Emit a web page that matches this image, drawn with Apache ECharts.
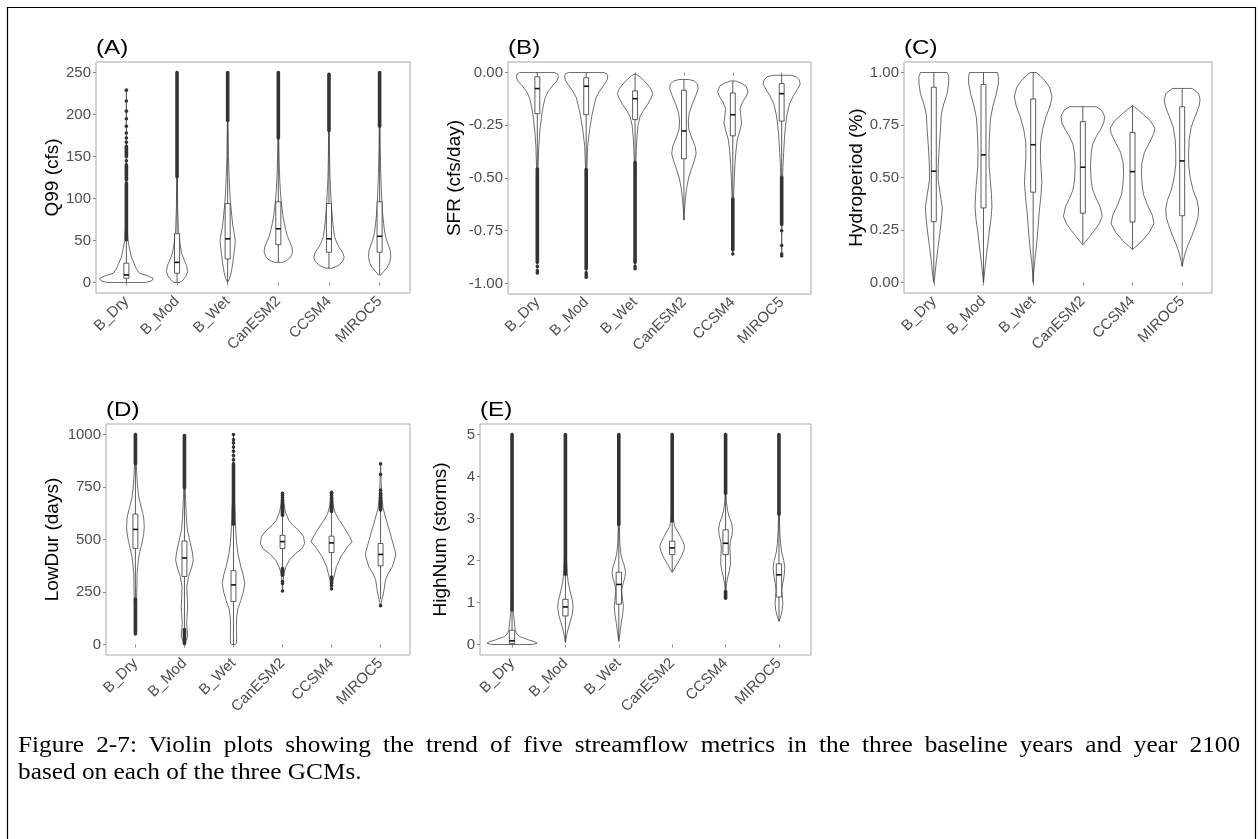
<!DOCTYPE html>
<html>
<head>
<meta charset="utf-8">
<script src="https://cdn.jsdelivr.net/npm/echarts@6/dist/echarts.min.js"></script>
<style>
  html, body { margin: 0; padding: 0; background: #fff; }
  #chart { position: absolute; left: 0; top: 0; width: 1258px; height: 839px; }
  #caption {
    position: absolute; left: 18px; top: 731px; width: 1111px; margin: 0;
    font-family: 'Liberation Serif', 'Times New Roman', serif; font-size: 23px;
    line-height: 27px; color: #000;
    transform: scaleX(1.1); transform-origin: 0 0;
  }
  #caption .full { display: block; text-align: justify; text-align-last: justify; }
  #caption .last { display: block; text-align: left; }
</style>
</head>
<body>
<div id="chart"></div>
<p id="caption"><span class="full">Figure 2-7: Violin plots showing the trend of five streamflow metrics in the three baseline years and year 2100</span><span class="last">based on each of the three GCMs.</span></p>
<script>
// ---------- categories shared by every panel ----------
const categories = ['B_Dry', 'B_Mod', 'B_Wet', 'CanESM2', 'CCSM4', 'MIROC5'];

// ---------- (A) Q99 ----------
const q99Ticks = [0, 50, 100, 150, 200, 250];
// [lower whisker, Q1, median, Q3, upper whisker]
const q99Box = [
  [0.5, 5, 9, 23, 51],
  [0.5, 11, 24, 58, 126],
  [1, 28, 52, 94, 193],
  [24, 45, 64, 96, 172],
  [17, 36, 52, 94, 181],
  [9, 36, 55, 96, 186]
];
// density outline: [value, half width in category units]
const q99Violin = [
  [[0,0.38],[2,0.5],[5,0.53],[8,0.42],[11,0.26],[16,0.2],[23,0.15],[30,0.1],[39,0.066],[51,0.03],[70,0.012],[120,0.005],[229,0]],
  [[0,0.06],[3,0.12],[8,0.18],[13,0.21],[20,0.19],[27,0.14],[35,0.09],[47,0.056],[62,0.028],[90,0.012],[150,0.004],[250,0]],
  [[0,0],[5,0.04],[12,0.07],[23,0.1],[33,0.12],[42,0.14],[50,0.15],[58,0.13],[68,0.1],[80,0.08],[95,0.055],[110,0.04],[126,0.028],[150,0.015],[190,0.006],[250,0]],
  [[24,0.08],[26,0.16],[30,0.24],[36,0.28],[42,0.27],[48,0.23],[55,0.18],[62,0.15],[70,0.12],[80,0.09],[92,0.065],[105,0.045],[120,0.03],[140,0.018],[170,0.008],[210,0.003],[250,0]],
  [[17,0.06],[20,0.18],[25,0.27],[30,0.3],[36,0.27],[42,0.2],[48,0.15],[55,0.11],[63,0.09],[75,0.07],[90,0.05],[105,0.035],[125,0.02],[150,0.012],[190,0.005],[248,0]],
  [[9,0.02],[13,0.08],[18,0.15],[24,0.2],[31,0.22],[38,0.21],[45,0.17],[52,0.13],[60,0.1],[70,0.08],[82,0.06],[95,0.045],[110,0.035],[130,0.022],[160,0.012],[200,0.005],[250,0]]
];
// stretches of outliers so dense they merge into a bar
const q99OutlierRuns = [
  [[51,118],[122,140],[150,162]],
  [[126,250]],
  [[193,250]],
  [[172,250]],
  [[181,248]],
  [[186,250]]
];
const q99OutlierPoints = [
  [145,167,172,178,186,195,204,216,229],
  [], [], [], [], []
];

// ---------- (B) SFR ----------
const sfrTicks = [-1, -0.75, -0.5, -0.25, 0];
const sfrBox = [
  [-0.457, -0.195, -0.076, -0.02, 0],
  [-0.46, -0.2, -0.065, -0.025, 0],
  [-0.427, -0.223, -0.124, -0.087, -0.005],
  [-0.7, -0.409, -0.277, -0.084, -0.033],
  [-0.6, -0.3, -0.2, -0.097, -0.04],
  [-0.497, -0.23, -0.1, -0.052, -0.013]
];
const sfrViolin = [
  [[-0.95,0],[-0.7,0.004],[-0.55,0.008],[-0.45,0.015],[-0.35,0.03],[-0.28,0.05],[-0.2,0.09],[-0.16,0.12],[-0.12,0.16],[-0.09,0.22],[-0.06,0.32],[-0.04,0.4],[-0.02,0.43],[-0.008,0.42],[0,0.36]],
  [[-0.97,0],[-0.7,0.004],[-0.55,0.008],[-0.45,0.015],[-0.35,0.03],[-0.27,0.07],[-0.2,0.12],[-0.12,0.2],[-0.09,0.27],[-0.06,0.36],[-0.035,0.43],[-0.015,0.44],[-0.005,0.42],[0,0.36]],
  [[-0.93,0],[-0.6,0.005],[-0.45,0.012],[-0.36,0.025],[-0.3,0.04],[-0.25,0.06],[-0.21,0.1],[-0.18,0.17],[-0.15,0.26],[-0.12,0.33],[-0.1,0.36],[-0.08,0.33],[-0.06,0.27],[-0.04,0.19],[-0.02,0.1],[-0.005,0]],
  [[-0.7,0],[-0.65,0.012],[-0.6,0.03],[-0.55,0.055],[-0.5,0.095],[-0.46,0.15],[-0.42,0.21],[-0.385,0.25],[-0.35,0.23],[-0.31,0.16],[-0.27,0.1],[-0.23,0.09],[-0.19,0.11],[-0.15,0.17],[-0.11,0.24],[-0.08,0.29],[-0.055,0.28],[-0.04,0.21],[-0.033,0.1]],
  [[-0.86,0],[-0.75,0.006],[-0.6,0.015],[-0.5,0.03],[-0.43,0.045],[-0.37,0.065],[-0.32,0.09],[-0.28,0.14],[-0.24,0.18],[-0.2,0.16],[-0.17,0.15],[-0.14,0.2],[-0.11,0.28],[-0.09,0.31],[-0.065,0.27],[-0.05,0.17],[-0.04,0.05]],
  [[-0.87,0],[-0.7,0.006],[-0.55,0.013],[-0.45,0.025],[-0.38,0.04],[-0.3,0.06],[-0.25,0.08],[-0.2,0.11],[-0.15,0.16],[-0.11,0.24],[-0.08,0.32],[-0.055,0.38],[-0.035,0.36],[-0.02,0.3],[-0.013,0.18]]
];
const sfrOutlierRuns = [
  [[-0.9,-0.457]],
  [[-0.93,-0.46]],
  [[-0.9,-0.427]],
  [],
  [[-0.84,-0.6]],
  [[-0.72,-0.497]]
];
const sfrOutlierPoints = [
  [-0.92,-0.94,-0.95],
  [-0.95,-0.96,-0.97],
  [-0.92,-0.93],
  [],
  [-0.86],
  [-0.75,-0.82,-0.86,-0.87]
];

// ---------- (C) Hydroperiod ----------
const hydTicks = [0, 0.25, 0.5, 0.75, 1];
const hydBox = [
  [0, 0.29, 0.53, 0.93, 1.0],
  [0, 0.355, 0.608, 0.943, 1.0],
  [0, 0.43, 0.656, 0.874, 1.0],
  [0.18, 0.33, 0.549, 0.766, 0.837],
  [0.157, 0.288, 0.528, 0.715, 0.842],
  [0.077, 0.318, 0.579, 0.837, 0.924]
];
const hydViolin = [
  [[0,0],[0.03,0.02],[0.1,0.05],[0.17,0.087],[0.25,0.13],[0.32,0.16],[0.36,0.17],[0.42,0.13],[0.49,0.087],[0.56,0.09],[0.65,0.11],[0.73,0.135],[0.8,0.15],[0.85,0.2],[0.9,0.27],[0.95,0.3],[0.98,0.3],[1.0,0.27]],
  [[0,0],[0.03,0.015],[0.08,0.035],[0.13,0.06],[0.19,0.09],[0.25,0.12],[0.3,0.15],[0.36,0.17],[0.42,0.16],[0.48,0.14],[0.55,0.115],[0.62,0.11],[0.7,0.12],[0.78,0.14],[0.84,0.19],[0.9,0.26],[0.95,0.3],[0.98,0.3],[1.0,0.28]],
  [[0,0],[0.05,0.012],[0.1,0.03],[0.17,0.065],[0.25,0.095],[0.33,0.12],[0.41,0.155],[0.48,0.175],[0.54,0.16],[0.6,0.145],[0.67,0.15],[0.73,0.19],[0.79,0.26],[0.84,0.34],[0.885,0.38],[0.93,0.33],[0.96,0.24],[0.985,0.14],[1.0,0.06]],
  [[0.18,0],[0.19,0.04],[0.22,0.14],[0.25,0.24],[0.28,0.33],[0.315,0.39],[0.36,0.35],[0.4,0.27],[0.44,0.2],[0.48,0.17],[0.52,0.16],[0.56,0.155],[0.62,0.17],[0.66,0.2],[0.7,0.28],[0.73,0.36],[0.76,0.42],[0.79,0.44],[0.82,0.38],[0.837,0.27]],
  [[0.157,0],[0.17,0.06],[0.2,0.2],[0.24,0.34],[0.28,0.43],[0.32,0.4],[0.37,0.3],[0.42,0.22],[0.47,0.19],[0.52,0.18],[0.57,0.19],[0.62,0.24],[0.67,0.35],[0.71,0.43],[0.735,0.45],[0.77,0.36],[0.8,0.22],[0.825,0.1],[0.842,0]],
  [[0.077,0],[0.1,0.02],[0.14,0.06],[0.18,0.12],[0.22,0.19],[0.27,0.27],[0.31,0.32],[0.35,0.33],[0.39,0.3],[0.44,0.22],[0.5,0.16],[0.56,0.13],[0.62,0.13],[0.68,0.14],[0.74,0.18],[0.79,0.26],[0.84,0.34],[0.87,0.36],[0.9,0.33],[0.924,0.2]]
];
const hydOutlierRuns = [[], [], [], [], [], []];
const hydOutlierPoints = [[], [], [], [], [], []];

// ---------- (D) LowDur ----------
const lowTicks = [0, 250, 500, 750, 1000];
const lowBox = [
  [216, 458, 548, 621, 862],
  [71, 324, 412, 493, 746],
  [0, 205, 284, 352, 573],
  [362, 457, 490, 520, 615],
  [321, 438, 484, 516, 633],
  [216, 375, 429, 481, 640]
];
const lowViolin = [
  [[50,0],[120,0.012],[200,0.022],[280,0.03],[340,0.035],[380,0.05],[420,0.07],[450,0.1],[490,0.14],[530,0.17],[560,0.18],[600,0.17],[625,0.15],[660,0.11],[700,0.07],[750,0.045],[800,0.03],[850,0.02],[900,0.01],[960,0.004],[1000,0]],
  [[5,0],[20,0.04],[40,0.065],[70,0.055],[103,0.045],[140,0.055],[182,0.065],[230,0.055],[276,0.05],[324,0.085],[370,0.15],[403,0.18],[440,0.16],[483,0.12],[520,0.085],[545,0.06],[600,0.04],[650,0.03],[720,0.018],[800,0.01],[900,0.005],[995,0]],
  [[0,0.03],[5,0.06],[30,0.065],[80,0.06],[130,0.065],[170,0.09],[210,0.15],[250,0.2],[290,0.23],[330,0.2],[370,0.15],[434,0.09],[480,0.065],[528,0.05],[600,0.035],[686,0.02],[800,0.01],[900,0.005],[1000,0]],
  [[255,0],[300,0.01],[340,0.03],[370,0.07],[402,0.14],[434,0.27],[457,0.4],[481,0.45],[513,0.43],[544,0.33],[570,0.2],[591,0.13],[630,0.06],[686,0.015],[720,0]],
  [[265,0],[300,0.015],[323,0.05],[370,0.1],[418,0.19],[466,0.33],[489,0.42],[513,0.37],[540,0.3],[560,0.25],[590,0.16],[623,0.08],[660,0.035],[700,0.012],[725,0]],
  [[185,0],[200,0.015],[225,0.04],[244,0.06],[275,0.08],[308,0.1],[340,0.16],[370,0.24],[400,0.28],[430,0.31],[460,0.28],[500,0.23],[528,0.2],[565,0.15],[607,0.1],[650,0.05],[700,0.025],[780,0.01],[860,0]]
];
const lowOutlierRuns = [
  [[862,1000],[57,216]],
  [[746,995],[5,71]],
  [[573,860]],
  [[615,690],[330,362]],
  [[633,700],[290,321]],
  [[640,700]]
];
const lowOutlierPoints = [
  [50],
  [],
  [880,900,920,940,960,975,1000],
  [700,710,720,300,290,255],
  [710,720,725,280,265],
  [710,720,735,810,860,185]
];

// ---------- (E) HighNum ----------
const hnTicks = [0, 1, 2, 3, 4, 5];
const hnBox = [
  [0, 0.02, 0.087, 0.34, 0.82],
  [0.05, 0.68, 0.894, 1.076, 1.67],
  [0.08, 0.96, 1.43, 1.72, 2.86],
  [1.72, 2.14, 2.3, 2.46, 2.94],
  [1.26, 2.14, 2.41, 2.73, 3.6],
  [0.55, 1.13, 1.66, 1.92, 3.1]
];
const hnViolin = [
  [[0,0.38],[0.03,0.47],[0.07,0.42],[0.1,0.33],[0.14,0.25],[0.18,0.16],[0.22,0.11],[0.28,0.08],[0.34,0.06],[0.45,0.05],[0.58,0.04],[0.74,0.025],[1,0.012],[1.5,0.005],[2.5,0.002],[5,0]],
  [[0.05,0],[0.15,0.015],[0.26,0.03],[0.42,0.06],[0.55,0.09],[0.7,0.125],[0.89,0.145],[1.05,0.13],[1.2,0.1],[1.37,0.07],[1.5,0.05],[1.69,0.035],[2,0.02],[2.5,0.01],[3.5,0.004],[5,0]],
  [[0.08,0],[0.2,0.015],[0.35,0.03],[0.5,0.045],[0.7,0.07],[0.9,0.085],[1.05,0.075],[1.2,0.06],[1.3,0.055],[1.45,0.08],[1.6,0.115],[1.72,0.125],[1.85,0.11],[2,0.07],[2.15,0.04],[2.4,0.02],[2.8,0.01],[3.5,0.004],[5,0]],
  [[1.72,0],[1.8,0.04],[1.9,0.08],[2.0,0.13],[2.12,0.18],[2.25,0.22],[2.35,0.23],[2.45,0.2],[2.55,0.16],[2.65,0.12],[2.8,0.05],[3,0.02],[3.5,0.008],[4.2,0.003],[5,0]],
  [[1.1,0],[1.3,0.008],[1.45,0.018],[1.6,0.04],[1.75,0.07],[1.9,0.09],[2.08,0.09],[2.3,0.08],[2.45,0.09],[2.6,0.12],[2.75,0.13],[2.9,0.11],[3.03,0.07],[3.2,0.035],[3.4,0.015],[3.8,0.006],[4.5,0.002],[5,0]],
  [[0.55,0],[0.62,0.02],[0.7,0.04],[0.82,0.06],[0.97,0.072],[1.12,0.065],[1.29,0.053],[1.45,0.07],[1.62,0.095],[1.84,0.11],[2.0,0.09],[2.2,0.05],[2.4,0.03],[2.7,0.015],[3.2,0.006],[4,0.002],[5,0]]
];
const hnOutlierRuns = [
  [[0.82,5]],
  [[1.67,5]],
  [[2.86,5]],
  [[2.94,5]],
  [[3.6,5],[1.1,1.26]],
  [[3.1,5]]
];
const hnOutlierPoints = [[], [], [], [], [], []];

// ---------- panel layout ----------
const panels = [
  { tag: '(A)', name: 'Q99 (cfs)',        grid: { left: 96,  top: 62,  width: 314, height: 231 }, min: -12.5, max: 262.5, ticks: q99Ticks, fmt: v => String(v),    gap: 33,
    violin: q99Violin, box: q99Box, runs: q99OutlierRuns, pts: q99OutlierPoints },
  { tag: '(B)', name: 'SFR (cfs/day)',    grid: { left: 508, top: 62,  width: 303, height: 232 }, min: -1.05, max: 0.05,   ticks: sfrTicks, fmt: v => v.toFixed(2), gap: 44,
    violin: sfrViolin, box: sfrBox, runs: sfrOutlierRuns, pts: sfrOutlierPoints },
  { tag: '(C)', name: 'Hydroperiod (%)',  grid: { left: 904, top: 62,  width: 308, height: 231 }, min: -0.05, max: 1.05,   ticks: hydTicks, fmt: v => v.toFixed(2), gap: 32,
    violin: hydViolin, box: hydBox, runs: hydOutlierRuns, pts: hydOutlierPoints },
  { tag: '(D)', name: 'LowDur (days)',    grid: { left: 106, top: 424, width: 304, height: 231 }, min: -50,   max: 1050,   ticks: lowTicks, fmt: v => String(v),    gap: 44,
    violin: lowViolin, box: lowBox, runs: lowOutlierRuns, pts: lowOutlierPoints },
  { tag: '(E)', name: 'HighNum (storms)', grid: { left: 480, top: 424, width: 331, height: 231 }, min: -0.25, max: 5.25,   ticks: hnTicks,  fmt: v => String(v),    gap: 30,
    violin: hnViolin, box: hnBox, runs: hnOutlierRuns, pts: hnOutlierPoints }
];

const xPositions = categories.map((c, i) => i + 1);
const tickColor = '#4d4d4d';
const outlineColor = '#5e5e5e';
const boxColor = '#333333';
const BOX_HALF = 0.05;

function makeViolinSeries(p, idx) {
  return {
    type: 'custom',
    xAxisIndex: idx,
    yAxisIndex: idx,
    data: p.box.map((b, i) => [xPositions[i], b[2]]),
    encode: { x: 0, y: 1 },
    renderItem: function (params, api) {
      const i = params.dataIndex;
      const x = api.value(0);
      const prof = p.violin[i];
      const b = p.box[i];
      const right = prof.map(d => api.coord([x + d[1], d[0]]));
      const left = prof.slice().reverse().map(d => api.coord([x - d[1], d[0]]));
      const children = [];
      children.push({
        type: 'polygon',
        shape: { points: right.concat(left) },
        style: { fill: '#ffffff', stroke: outlineColor, lineWidth: 0.9 }
      });
      // whiskers
      const wLo = api.coord([x, b[0]]), q1 = api.coord([x, b[1]]);
      const q3 = api.coord([x, b[3]]), wHi = api.coord([x, b[4]]);
      children.push({ type: 'line', shape: { x1: wLo[0], y1: wLo[1], x2: q1[0], y2: q1[1] }, style: { stroke: boxColor, lineWidth: 0.8 } });
      children.push({ type: 'line', shape: { x1: q3[0], y1: q3[1], x2: wHi[0], y2: wHi[1] }, style: { stroke: boxColor, lineWidth: 0.8 } });
      // outliers
      p.runs[i].forEach(r => {
        const a = api.coord([x, r[0]]), c = api.coord([x, r[1]]);
        children.push({ type: 'line', shape: { x1: a[0], y1: a[1], x2: c[0], y2: c[1] }, style: { stroke: boxColor, lineWidth: 3.6, lineCap: 'round' } });
      });
      p.pts[i].forEach(v => {
        const a = api.coord([x, v]);
        children.push({ type: 'circle', shape: { cx: a[0], cy: a[1], r: 1.8 }, style: { fill: boxColor } });
      });
      // box and median
      const tl = api.coord([x - BOX_HALF, b[3]]), br = api.coord([x + BOX_HALF, b[1]]);
      children.push({
        type: 'rect',
        shape: { x: tl[0], y: tl[1], width: br[0] - tl[0], height: br[1] - tl[1] },
        style: { fill: '#ffffff', stroke: boxColor, lineWidth: 0.8 }
      });
      const m1 = api.coord([x - BOX_HALF, b[2]]), m2 = api.coord([x + BOX_HALF, b[2]]);
      children.push({ type: 'line', shape: { x1: m1[0], y1: m1[1], x2: m2[0], y2: m2[1] }, style: { stroke: '#111', lineWidth: 1.6 } });
      return { type: 'group', children: children };
    }
  };
}

const option = {
  animation: false,
  backgroundColor: '#ffffff',
  grid: panels.map(p => Object.assign({ show: true, borderColor: '#a9a9a9', borderWidth: 1, backgroundColor: '#fff' }, p.grid)),
  xAxis: panels.map((p, idx) => ({
    type: 'value', gridIndex: idx, min: 0.4, max: 6.6,
    axisLine: { show: false },
    splitLine: { show: false },
    axisTick: { show: true, length: 3, customValues: xPositions, lineStyle: { color: '#8a8a8a' } },
    axisLabel: {
      customValues: xPositions, rotate: 45, margin: 6,
      color: tickColor, fontSize: 15, fontFamily: 'Liberation Sans, Arial, sans-serif',
      formatter: v => categories[Math.round(v) - 1]
    }
  })),
  yAxis: panels.map((p, idx) => ({
    type: 'value', gridIndex: idx, min: p.min, max: p.max,
    name: p.name, nameLocation: 'middle', nameRotate: 90, nameGap: p.gap,
    nameTextStyle: { color: '#000', fontSize: 19, fontFamily: 'Liberation Sans, Arial, sans-serif' },
    axisLine: { show: false },
    splitLine: { show: false },
    axisTick: { show: true, length: 3, customValues: p.ticks, lineStyle: { color: '#8a8a8a' } },
    axisLabel: {
      customValues: p.ticks, margin: 5,
      color: tickColor, fontSize: 15, fontFamily: 'Liberation Sans, Arial, sans-serif',
      formatter: p.fmt
    }
  })),
  series: panels.map(makeViolinSeries),
  graphic: [
    { type: 'rect', silent: true, shape: { x: 7.5, y: 7.5, width: 1248, height: 900 }, style: { fill: 'none', stroke: '#000', lineWidth: 1.2 } }
  ].concat(panels.map(p => ({
    type: 'text', silent: true,
    x: p.grid.left, y: p.grid.top - 14, scaleX: 1.15,
    style: { text: p.tag, fontSize: 21, fontFamily: 'Liberation Sans, Arial, sans-serif', fill: '#000', textVerticalAlign: 'middle' }
  })))
};

const chart = echarts.init(document.getElementById('chart'), null, { renderer: 'canvas' });
chart.setOption(option);
</script>
</body>
</html>
